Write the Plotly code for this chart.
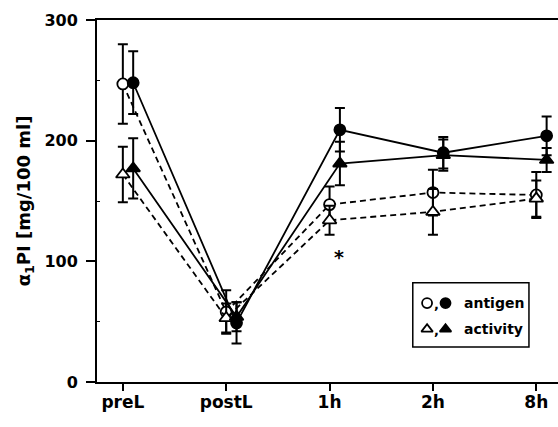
import plotly.graph_objects as go

# Sampling times
categories = ["preL", "postL", "1h", "2h", "8h"]

# alpha1-PI antigen (mg/100 ml), two groups: dashed (open) and solid (filled)
antigen_open = [247, 58, 147, 157, 155]
antigen_open_err = [33, 18, 15, 19, 19]
antigen_filled = [248, 49, 209, 190, 204]
antigen_filled_err = [26, 17, 18, 13, 16]

# alpha1-PI activity (mg/100 ml)
activity_open = [172, 53, 134, 141, 152]
activity_open_err = [23, 12, 12, 19, 15]
activity_filled = [177, 54, 181, 188, 184]
activity_filled_err = [25, 12, 18, 13, 10]

# significance mark at 1h
star_index = 2
star_value = 104

FONT = "DejaVu Sans"
BLACK = "black"
SHIFT = 0.1  # horizontal shift of the filled-symbol series
DASH = "6px,4px"

base_x = list(range(len(categories)))
shifted_x = [v + SHIFT for v in base_x]


def series(x, y, err, symbol, filled, dash):
    return go.Scatter(
        x=x, y=y, mode="lines+markers",
        line=dict(color=BLACK, width=1.8, dash=dash),
        marker=dict(symbol=symbol, size=11 if symbol == "circle" else 12,
                    color=BLACK if filled else "white",
                    line=dict(color=BLACK, width=1.8)),
        error_y=dict(type="data", array=err, visible=True,
                     color=BLACK, thickness=2, width=5),
        showlegend=False, hoverinfo="skip",
    )


fig = go.Figure()
fig.add_trace(series(base_x, antigen_open, antigen_open_err, "circle", False, DASH))
fig.add_trace(series(base_x, activity_open, activity_open_err, "triangle-up", False, DASH))
fig.add_trace(series(shifted_x, activity_filled, activity_filled_err, "triangle-up", True, "solid"))
fig.add_trace(series(shifted_x, antigen_filled, antigen_filled_err, "circle", True, "solid"))

# key symbols, drawn on an overlay axis spanning the plot area (0..1)
key_rows = [0.218, 0.146]
key_symbols = ["circle", "triangle-up"]
key_text = ["antigen", "activity"]
for yy, sym in zip(key_rows, key_symbols):
    fig.add_trace(go.Scatter(
        x=[0.716, 0.756], y=[yy, yy], mode="markers", xaxis="x2", yaxis="y2",
        marker=dict(symbol=sym, size=10, color=["white", BLACK],
                    line=dict(color=BLACK, width=1.8)),
        showlegend=False, hoverinfo="skip"))

annotations = []
for yy, txt in zip(key_rows, key_text):
    annotations.append(dict(x=0.792, y=yy, xref="paper", yref="paper", text=txt,
                            showarrow=False, xanchor="left", yanchor="middle",
                            font=dict(family=FONT, size=14, color=BLACK, weight="bold")))
    annotations.append(dict(x=0.736, y=yy - 0.004, xref="paper", yref="paper", text=",",
                            showarrow=False, xanchor="center", yanchor="middle",
                            font=dict(family=FONT, size=13, color=BLACK, weight="bold")))
annotations.append(dict(x=base_x[star_index] + 0.09, y=star_value, xref="x", yref="y",
                        text="*", showarrow=False, yanchor="middle",
                        font=dict(family=FONT, size=19, color=BLACK, weight="bold")))

fig.update_layout(
    width=558, height=427,
    margin=dict(l=97, r=0, t=20, b=45, pad=0),
    paper_bgcolor="white", plot_bgcolor="white",
    font=dict(family=FONT, size=16, color=BLACK),
    xaxis=dict(range=[-0.25, 4.21], tickvals=base_x, ticktext=categories,
               showgrid=False, zeroline=False, showline=True, linecolor=BLACK,
               linewidth=2, mirror=True, ticks="outside", ticklen=7, tickwidth=1.5,
               tickcolor=BLACK, ticklabelstandoff=-3,
               tickfont=dict(family=FONT, size=17, weight="bold")),
    yaxis=dict(range=[0, 300], tickvals=[0, 100, 200, 300],
               showgrid=False, zeroline=False, showline=True, linecolor=BLACK,
               linewidth=2, ticks="outside", ticklen=9, tickwidth=1.5, tickcolor=BLACK,
               ticklabelstandoff=5,
               minor=dict(tickvals=[50, 150, 250], ticks="inside", ticklen=3,
                          tickwidth=1.2, tickcolor=BLACK),
               tickfont=dict(family=FONT, size=16, weight="bold"),
               title=dict(text="α<sub>1</sub>PI [mg/100 ml]", standoff=9,
                          font=dict(family=FONT, size=18, weight="bold"))),
    xaxis2=dict(overlaying="x", range=[0, 1], visible=False),
    yaxis2=dict(overlaying="y", range=[0, 1], visible=False),
    shapes=[dict(type="rect", xref="paper", yref="paper",
                 x0=0.685, x1=0.937, y0=0.097, y1=0.274,
                 line=dict(color=BLACK, width=1.5), fillcolor="rgba(0,0,0,0)")],
    annotations=annotations,
)

fig.write_html("out.html")
